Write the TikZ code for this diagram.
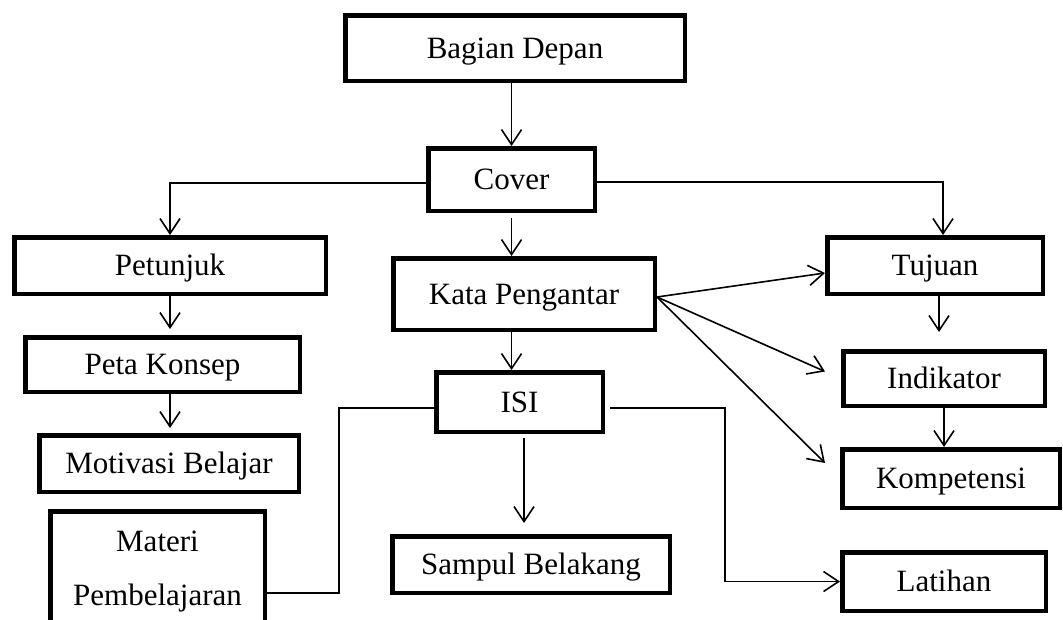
\documentclass[tikz,border=0pt]{standalone}
\usepackage{fontspec}
\setmainfont{Liberation Serif}
\usetikzlibrary{arrows.meta}
\begin{document}
\begin{tikzpicture}[x=1pt,y=-1pt,
  boxbase/.style={draw, line width=4.5pt, rectangle, inner sep=0pt},
  box/.style={boxbase, font=\fontsize{31}{37}\selectfont, text height=22pt, text depth=1.5pt},
  link/.style={line width=1.6pt},
  flow/.style={link, -{Straight Barb[length=15pt,width=20pt]}},
]
\useasboundingbox (0,0) rectangle (1063,619);

% boxes
\node[box, minimum width=339.5pt, minimum height=65.5pt] (bagian) at (515,48) {Bagian Depan};
\node[box, minimum width=166.5pt, minimum height=62.5pt] (cover) at (511.5,179.5) {Cover};
\node[box, minimum width=311.5pt, minimum height=56.5pt] (petunjuk) at (170,265.5) {Petunjuk};
\node[box, minimum width=215.5pt, minimum height=56.5pt] (tujuan) at (935,265.5) {Tujuan};
\node[box, minimum width=261.5pt, minimum height=71.5pt] (kata) at (524,294) {Kata Pengantar};
\node[box, minimum width=274.5pt, minimum height=54.5pt] (peta) at (162.5,364.5) {Peta Konsep};
\node[box, minimum width=201.5pt, minimum height=54.5pt] (indikator) at (944,378.5) {Indikator};
\node[box, minimum width=166.5pt, minimum height=59.5pt] (isi) at (519.5,402) {ISI};
\node[box, minimum width=259.5pt, minimum height=56.5pt] (motivasi) at (169,463.5) {Motivasi Belajar};
\node[box, minimum width=217.5pt, minimum height=58.5pt] (kompetensi) at (951,478.5) {Kompetensi};
\node[boxbase, minimum width=214.5pt, minimum height=121.5pt, align=center,
      font=\fontsize{31}{54}\selectfont] (materi) at (157.5,572) {Materi\\Pembelajaran};
\node[box, minimum width=277.5pt, minimum height=56.5pt] (sampul) at (531,564.5) {Sampul Belakang};
\node[box, minimum width=203.5pt, minimum height=58.5pt] (latihan) at (944,581.5) {Latihan};

% bend points
\coordinate (isibendL) at (339,408);
\coordinate (isibendR) at (725,408);

% connectors
\draw[flow] (bagian.south -| cover.north) -- (cover.north);
\draw[flow] ([yshift=-3.5pt]cover.west) -| (petunjuk.north);
\draw[flow] ([yshift=-2.5pt]cover.east) -| ([xshift=8pt]tujuan.north);
\draw[flow, shorten <=5pt] (cover.south) -- (cover.south |- kata.north);
\draw[flow] (cover.south |- kata.south) -- (cover.south |- isi.north);

\draw[flow] ([yshift=-3pt]kata.east) -- ([yshift=-7.5pt]tujuan.west);
\draw[flow] ([yshift=-3pt]kata.east) -- ([xshift=-16pt,yshift=7pt]indikator.west);
\draw[flow] ([yshift=-3pt]kata.east) -- ([xshift=-15pt,yshift=15.5pt]kompetensi.west);

\draw[flow, shorten >=17pt] ([xshift=4pt]tujuan.south) -- ([xshift=4pt]tujuan.south |- indikator.north);
\draw[flow] (indikator.south) -- (indikator.south |- kompetensi.north);

\draw[flow, shorten >=6pt] (petunjuk.south) -- (petunjuk.south |- peta.north);
\draw[flow, shorten >=5pt] (petunjuk.south |- peta.south) -- (petunjuk.south |- motivasi.north);

\draw[link] ([yshift=-6pt]isi.west) -- (isibendL) |- ([yshift=-21pt]materi.east);
\draw[flow, shorten <=4pt, shorten >=11pt] ([xshift=4.5pt]isi.south) -- ([xshift=4.5pt]isi.south |- sampul.north);
\draw[flow, shorten <=5pt] ([yshift=-6pt]isi.east) -- (isibendR) |- (latihan.west);
\end{tikzpicture}
\end{document}
